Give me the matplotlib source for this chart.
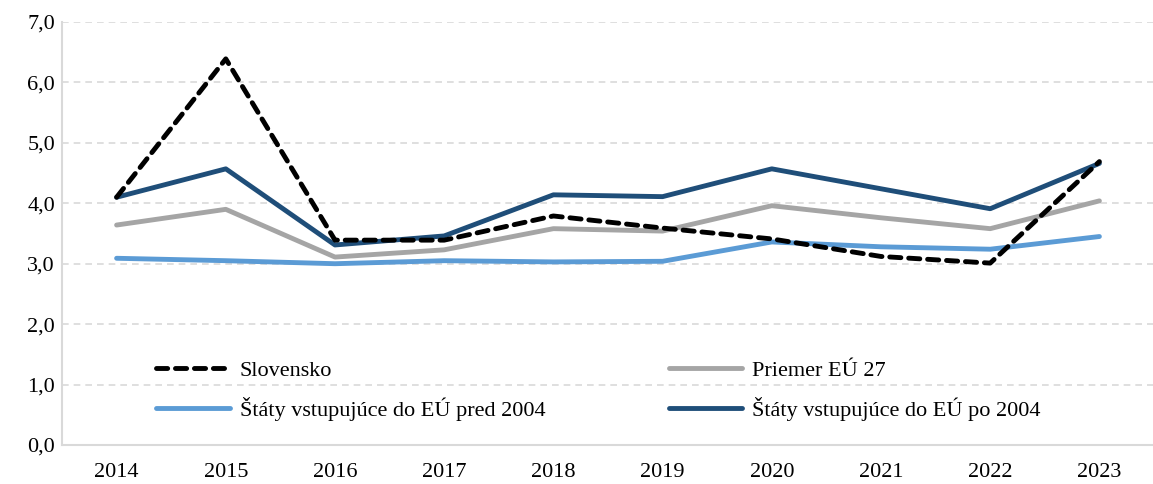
import matplotlib
matplotlib.use("Agg")
import matplotlib.pyplot as plt

years = ["2014", "2015", "2016", "2017", "2018", "2019", "2020", "2021", "2022", "2023"]
slovensko = [4.10, 6.39, 3.39, 3.39, 3.79, 3.59, 3.41, 3.12, 3.01, 4.69]
priemer_eu27 = [3.64, 3.90, 3.11, 3.23, 3.58, 3.54, 3.96, 3.76, 3.58, 4.04]
pred_2004 = [3.09, 3.05, 3.00, 3.05, 3.03, 3.04, 3.36, 3.28, 3.24, 3.45]
po_2004 = [4.10, 4.57, 3.31, 3.46, 4.14, 4.11, 4.57, 4.24, 3.91, 4.66]

plt.rcParams["font.family"] = ["Liberation Serif", "DejaVu Serif"]

fig = plt.figure(figsize=(11.53, 4.84), dpi=100)
ax = fig.add_axes([62 / 1153, 1 - 445 / 484, 1092 / 1153, 423 / 484])

x = range(len(years))
l1, = ax.plot(x, slovensko, color="black", lw=3.5, linestyle=(0, (2.3, 1.6)),
              dash_capstyle="round", label="Slovensko", zorder=5)
l2, = ax.plot(x, priemer_eu27, color="#a5a5a5", lw=3.5, label="Priemer EÚ 27",
              solid_capstyle="round", zorder=3)
l3, = ax.plot(x, pred_2004, color="#5b9bd5", lw=3.5,
              label="Štáty vstupujúce do EÚ pred 2004", solid_capstyle="round", zorder=3)
l4, = ax.plot(x, po_2004, color="#1f4e79", lw=3.5,
              label="Štáty vstupujúce do EÚ po 2004", solid_capstyle="round", zorder=4)

ax.set_xlim(-0.5, 9.5)
ax.set_ylim(0, 7)
ax.set_yticks([0, 1, 2, 3, 4, 5, 6, 7])
ax.set_yticklabels([f"{v},0" for v in range(8)])
ax.set_xticks(list(x))
ax.set_xticklabels(years)
ax.tick_params(length=0, labelsize=16, pad=13)
ax.tick_params(axis="y", pad=5)
ax.grid(axis="y", color="#d9d9d9", linestyle=(0, (4, 3)), lw=1.2)
ax.set_axisbelow(True)
for s in ["top", "right"]:
    ax.spines[s].set_visible(False)
for s in ["left", "bottom"]:
    ax.spines[s].set_color("#d9d9d9")
    ax.spines[s].set_linewidth(1.5)

# legend rows: Slovensko / Priemer, pred / po
ax.legend([l1, l3, l2, l4],
          [l1.get_label(), l3.get_label(), l2.get_label(), l4.get_label()],
          ncol=2, loc="lower left", bbox_to_anchor=(0.068, 0.009),
          frameon=False, fontsize=16, handlelength=3.3, columnspacing=5.55,
          labelspacing=0.75, handletextpad=0.45)

fig.savefig("out.png", dpi=100)
